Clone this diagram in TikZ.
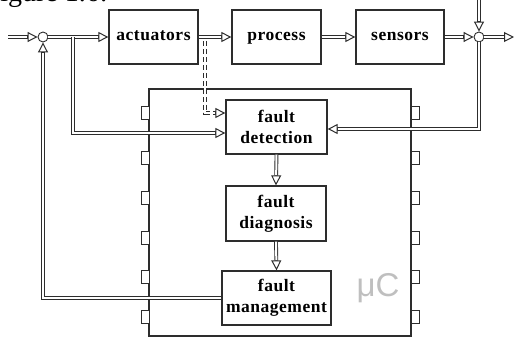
\documentclass[tikz,border=0pt]{standalone}
\usepackage{fontspec}
\setmainfont{Liberation Serif}
\newfontfamily\mcfont{Liberation Sans}
\usetikzlibrary{arrows.meta, positioning, calc}
\definecolor{linegray}{RGB}{45, 45, 45}

\begin{document}
\begin{tikzpicture}[x=1pt, y=-1pt]
    \tikzstyle{block}=[rectangle, draw=linegray, line width=1.3pt, fill=white, align=center,
        font=\bfseries\addfontfeature{LetterSpace=3}\fontsize{17.5}{21}\selectfont, inner sep=0pt]
    \tikzstyle{one}=[text height=8pt, text depth=0pt]
    \tikzstyle{sum}=[circle, draw=linegray, line width=0.9pt, fill=white, minimum size=10pt, inner sep=0pt]
    \tikzstyle{pin}=[draw=linegray, line width=1pt, fill=white]
    \tikzstyle{tip}=[-{Triangle[fill=white, length=10pt, width=10pt, line width=1pt]}]
    \tikzstyle{dline}=[draw=white, line width=2pt, shorten >=10.5pt,
        preaction={draw=linegray, line width=3.8pt, shorten >=0pt, tip}]
    \tikzstyle{dashline}=[draw=white, line width=2pt, shorten >=10.5pt,
        preaction={draw=linegray, line width=3.8pt, shorten >=0pt, dash pattern=on 5pt off 3pt, tip}]

    \useasboundingbox (0,0) rectangle (515,337);

    % Caption (cut off at the top)
    \node[anchor=base west, inner sep=0pt, font=\fontsize{28}{28}\selectfont] (cap) at (-15.5,2) {Figure 1.6:};

    % Microcontroller
    \node[draw=linegray, line width=1.3pt, minimum width=262pt, minimum height=247pt] (mc) at (280,212.5) {};
    \foreach \y in {113,158,198,238,277,317} {
        \draw[pin] (141,\y-6.5) rectangle (149,\y+6.5);
        \draw[pin] (411,\y-6.5) rectangle (419,\y+6.5);
    }
    \node[text=gray!50, font=\mcfont\fontsize{33}{33}\selectfont] (mclabel) at (378,288) {μC};

    % Process chain
    \node[block, one, minimum width=89pt, minimum height=54pt] (act) at (153.5,37) {actuators};
    \node[block, one, minimum width=89pt, minimum height=54pt] (proc) at (276.5,37) {process};
    \node[block, one, minimum width=88pt, minimum height=54pt] (sens) at (400,37) {sensors};
    \node[sum] (sl) at (43,37) {};
    \node[sum] (sr) at (479,37) {};

    % Fault handling
    \node[block, minimum width=101pt, minimum height=54pt] (det) at (276.5,127) {fault\\detection};
    \node[block, minimum width=100pt, minimum height=55pt] (diag) at (276,213.5) {fault\\diagnosis};
    \node[block, minimum width=109pt, minimum height=54pt] (man) at (276.5,298) {fault\\management};

    \coordinate (in) at (8,37);
    \coordinate (out) at (514,37);
    \coordinate (ref) at (479,0);
    \coordinate (br) at (73,37);
    \coordinate (dsh) at (205,41);

    % Connections
    \draw[dline] (in) -- (sl.west);
    \draw[dline] (sl.east) -- (act.west);
    \draw[dline] (act.east) -- (proc.west);
    \draw[dline] (proc.east) -- (sens.west);
    \draw[dline] (sens.east) -- (sr.west);
    \draw[dline] (sr.east) -- (out);
    \draw[dline] (ref) -- (sr.north);
    \draw[dline] (sr.south) |- ([yshift=-2pt]det.east);
    \draw[dline] (br) |- ([yshift=-6pt]det.west);
    \draw[dashline] (dsh) |- ([yshift=14pt]det.west);
    \draw[dline] (det.south) -- (diag.north);
    \draw[dline] (diag.south) -- (man.north);
    \draw[dline] (man.west) -| (sl.south);
\end{tikzpicture}
\end{document}
